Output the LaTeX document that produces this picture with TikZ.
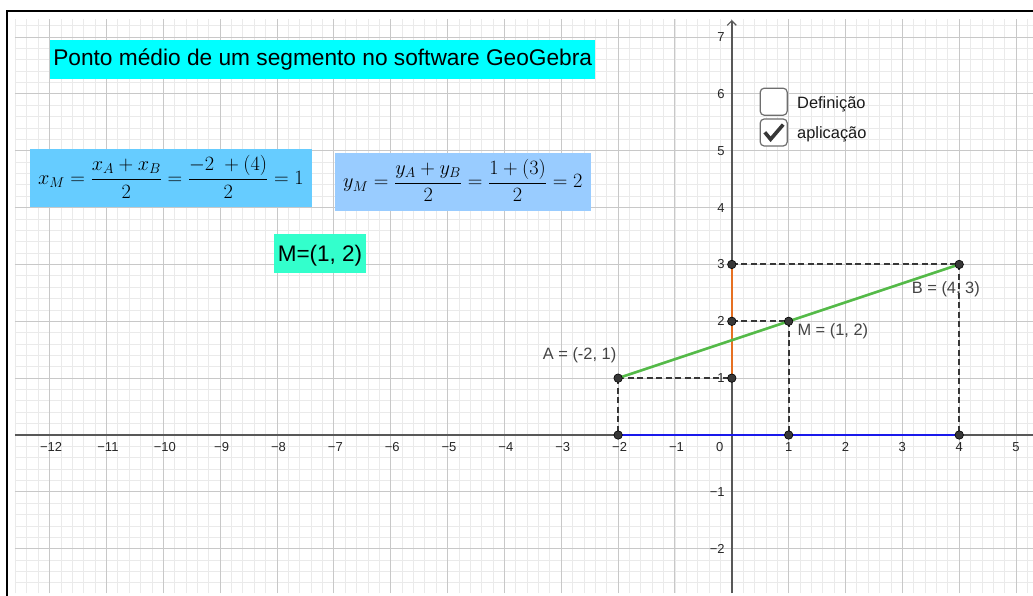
\documentclass[tikz,border=0pt]{standalone}
\usepackage{fix-cm}
\usepackage[no-math]{fontspec}
\setmainfont{Liberation Sans}
\usetikzlibrary{arrows.meta}
\definecolor{gridmajor}{RGB}{200,200,200}
\definecolor{gridminor}{RGB}{234,234,234}
\definecolor{axiscol}{RGB}{88,88,88}
\definecolor{ptfill}{RGB}{55,55,55}
\definecolor{segGreen}{RGB}{84,186,72}
\definecolor{segOrange}{RGB}{230,112,34}
\definecolor{segBlue}{RGB}{25,25,235}
\definecolor{titlecol}{RGB}{0,255,255}
\definecolor{xmcol}{RGB}{102,204,255}
\definecolor{ymcol}{RGB}{153,204,255}
\definecolor{mcol}{RGB}{51,255,204}
\definecolor{labelcol}{RGB}{68,68,68}
\definecolor{cbcol}{RGB}{110,110,110}
\tikzset{
  minorline/.style={gridminor, line width=0.8pt},
  majorline/.style={gridmajor, line width=1pt},
  axisline/.style={axiscol, line width=1.4pt},
  ticklbl/.style={inner sep=0pt, font=\fontsize{13}{15}\selectfont, text=black!85},
  dashline/.style={ptfill, line width=2pt, dash pattern=on 6pt off 3.5pt},
  segline/.style={line width=2.6pt},
  ptdot/.style={circle, fill=ptfill, draw=black, line width=0.6pt, minimum size=8.5pt, inner sep=0pt},
  ptlbl/.style={anchor=base west, inner sep=0pt, text=labelcol, font=\fontsize{16.4}{19}\selectfont},
  tbox/.style={inner sep=0pt, anchor=north west},
  cbox/.style={draw=cbcol, fill=white, rounded corners=4pt, line width=1.2pt, minimum size=27pt, inner sep=0pt},
  cblbl/.style={anchor=base west, inner sep=0pt, text=black!90, font=\fontsize{16.4}{19}\selectfont}
}
\begin{document}
\begin{tikzpicture}[x=1pt,y=-1pt]
\useasboundingbox (0,0) rectangle (1033,596);
\fill[white] (0,0) rectangle (1033,596);
\begin{scope}[shift={(731.8pt,-435pt)}]
\begin{scope}[x=56.85pt,y=56.85pt]
  \clip (-12.61,-2.78) rectangle (5.31,7.32);
  \foreach \i in {-63,...,26} \draw[minorline] ({\i/5},-2.78) -- ({\i/5},7.32);
  \foreach \j in {-13,...,36} \draw[minorline] (-12.61,{\j/5}) -- (5.31,{\j/5});
  \foreach \i in {-12,...,5} \draw[majorline] (\i,-2.78) -- (\i,7.32);
  \foreach \j in {-2,...,7} \draw[majorline] (-12.61,\j) -- (5.31,\j);
  % axes
  \coordinate (xL) at (-12.61,0);
  \coordinate (xR) at (5.31,0);
  \coordinate (yB) at (0,-2.78);
  \coordinate (yT) at (0,7.30);
  \draw[axisline] (xL) -- (xR);
  \draw[axisline, -{Straight Barb[length=4.5pt,width=9pt,line width=1.2pt]}] (yB) -- (yT);
  % tick labels
  \foreach \i in {1,...,12} \node[ticklbl, yshift=-12pt, xshift=1.5pt] (xn\i) at (-\i,0) {−\i};
  \foreach \i in {1,...,5} \node[ticklbl, yshift=-12pt] (xp\i) at (\i,0) {\i};
  \node[ticklbl, yshift=-12pt, xshift=-12pt] (x0) at (0,0) {0};
  \foreach \j in {1,...,7} \node[ticklbl, anchor=east, xshift=-7pt] (yp\j) at (0,\j) {\j};
  \foreach \j in {1,2} \node[ticklbl, anchor=east, xshift=-7pt] (yn\j) at (0,-\j) {−\j};
  % points
  \coordinate (A) at (-2,1);
  \coordinate (B) at (4,3);
  \coordinate (M) at (1,2);
  \coordinate (Y1) at (0,1);
  \coordinate (Y2) at (0,2);
  \coordinate (Y3) at (0,3);
  \coordinate (XA) at (-2,0);
  \coordinate (XM) at (1,0);
  \coordinate (XB) at (4,0);
  % dashed projections
  \draw[dashline] (A) -- (Y1);
  \draw[dashline] (A) -- (XA);
  \draw[dashline] (Y3) -- (B);
  \draw[dashline] (B) -- (XB);
  \draw[dashline] (Y2) -- (M);
  \draw[dashline] (M) -- (XM);
  % segments
  \draw[segline, segBlue] (XA) -- (XB);
  \draw[segline, segOrange] (Y1) -- (Y3);
  \draw[segline, segGreen] (A) -- (B);
  % dots
  \foreach \p in {A,B,M,Y1,Y2,Y3,XA,XM,XB} \node[ptdot] (d\p) at (\p) {};
\end{scope}
\end{scope}
% point labels
\node[ptlbl] (lblA) at (542.7,359.3) {A = (-2, 1)};
\node[ptlbl] (lblB) at (911.7,293.3) {B = (4, 3)};
\node[ptlbl] (lblM) at (797.3,335) {M = (1, 2)};
% frame
\coordinate (fb) at (7,596);
\coordinate (fc) at (7,11);
\coordinate (fr) at (1033,11);
\draw[black, line width=1.3pt] (fb) -- (fc) -- (fr);
% text boxes
\node[tbox, fill=titlecol, minimum width=545pt, text height=25pt, text depth=14pt,
  font=\fontsize{22.7}{26}\selectfont] (title) at (50,40) {Ponto médio de um segmento no software GeoGebra};
\node[tbox, fill=xmcol, minimum width=282.7pt, text height=35.1pt, text depth=22.3pt,
  font=\fontsize{20.3}{24}\selectfont] (xm) at (29.3,149.3)
  {$\displaystyle x_M=\frac{x_A+x_B}{2}=\frac{-2\ +(4)}{2}=1$};
\node[tbox, fill=ymcol, minimum width=256.4pt, text height=34.5pt, text depth=22.9pt,
  font=\fontsize{20.3}{24}\selectfont] (ym) at (334.3,153.3)
  {$\displaystyle y_M=\frac{y_A+y_B}{2}=\frac{1+(3)}{2}=2$};
\node[tbox, fill=mcol, minimum width=91.7pt, text height=27.7pt, text depth=11.7pt,
  font=\fontsize{22.5}{26}\selectfont] (mres) at (274,233.3) {M=(1, 2)};
% check boxes
\node[cbox] (cb1) at (773.7,101.7) {};
\node[cbox] (cb2) at (773.7,132.5) {};
\coordinate (ck1) at (764.8,132.3);
\coordinate (ck2) at (770.6,139.3);
\coordinate (ck3) at (783.2,124.6);
\draw[ptfill, line width=3.6pt] (ck1) -- (ck2) -- (ck3);
\node[cblbl] (lblDef) at (797,108.3) {Definição};
\node[cblbl] (lblApl) at (797,138.4) {aplicação};
\end{tikzpicture}
\end{document}
